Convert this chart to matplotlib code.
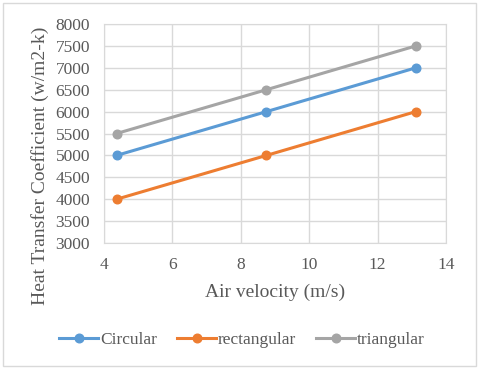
import matplotlib
matplotlib.use("Agg")
import matplotlib.pyplot as plt
from matplotlib.patches import Rectangle

velocity = [4.37, 8.75, 13.12]
circular = [5000, 6000, 7000]
rectangular = [4000, 5000, 6000]
triangular = [5500, 6500, 7500]
series_names = ["Circular", "rectangular", "triangular"]
colors = ["#5B9BD5", "#ED7D31", "#A5A5A5"]

plt.rcParams['font.family'] = ['Liberation Serif', 'DejaVu Serif']

fig = plt.figure(figsize=(4.8, 3.69), dpi=100)
ax = fig.add_axes([104/480, 1-243/369, (446-104)/480, (243-24)/369])

for y, name, c in zip([circular, rectangular, triangular], series_names, colors):
    ax.plot(velocity, y, color=c, lw=2.2, marker='o', ms=6.2, label=name)

ax.set_xlim(4, 14)
ax.set_ylim(3000, 8000)
ax.set_xticks(range(4, 15, 2))
ax.set_yticks(range(3000, 8001, 500))
ax.grid(True, color='#D9D9D9', lw=1)
ax.set_axisbelow(True)
for s in ax.spines.values():
    s.set_color('#D9D9D9')
ax.tick_params(length=0, labelsize=12.5, colors='#595959')
ax.tick_params(axis='y', pad=10)
ax.tick_params(axis='x', pad=10)

fig.text(275/480, 1-292/369, 'Air velocity (m/s)', fontsize=14, color='#595959',
         ha='center', va='center')
fig.text(40/480, 1-166/369, 'Heat Transfer Coefficient (w/m2-k)', fontsize=14,
         color='#595959', ha='center', va='center', rotation=90)

leg = fig.legend(loc='center', bbox_to_anchor=(242/480, 1-340/369), ncol=3, frameon=False,
                 fontsize=12.5, handlelength=2.25, columnspacing=1.15, handletextpad=0.1,
                 labelcolor='#595959')

fig.patches.append(Rectangle((3/480, 3/369), 473/480, 363/369, transform=fig.transFigure,
                             fill=False, edgecolor='#D9D9D9', lw=1))
fig.savefig('out.png', dpi=100)
